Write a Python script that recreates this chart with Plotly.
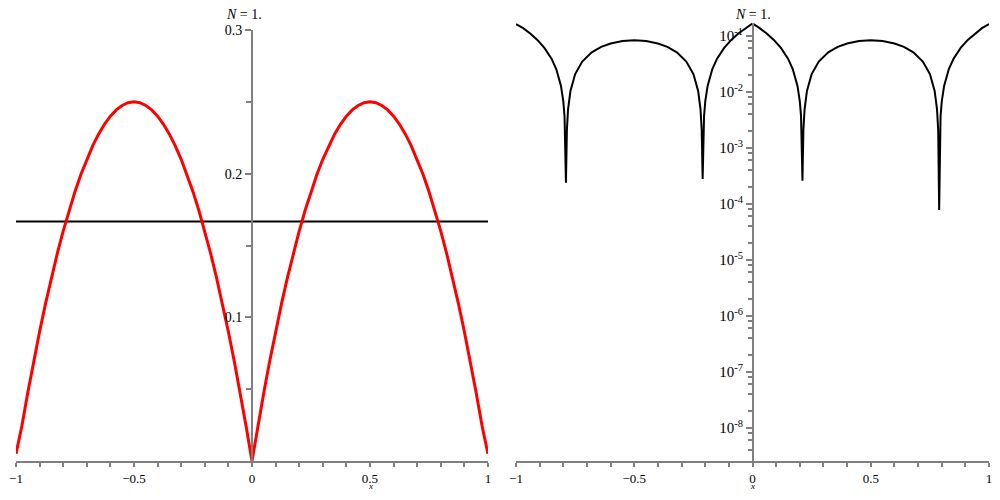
import plotly.graph_objects as go

# ---- data ----
x_left = [-1.0, -0.975, -0.95, -0.925, -0.9, -0.875, -0.85, -0.825, -0.8, -0.775, -0.75,
          -0.725, -0.7, -0.675, -0.65, -0.625, -0.6, -0.575, -0.55, -0.525, -0.5,
          -0.475, -0.45, -0.425, -0.4, -0.375, -0.35, -0.325, -0.3, -0.275, -0.25,
          -0.225, -0.2, -0.175, -0.15, -0.125, -0.1, -0.075, -0.05, -0.025, 0.0,
          0.025, 0.05, 0.075, 0.1, 0.125, 0.15, 0.175, 0.2, 0.225, 0.25,
          0.275, 0.3, 0.325, 0.35, 0.375, 0.4, 0.425, 0.45, 0.475, 0.5,
          0.525, 0.55, 0.575, 0.6, 0.625, 0.65, 0.675, 0.7, 0.725, 0.75,
          0.775, 0.8, 0.825, 0.85, 0.875, 0.9, 0.925, 0.95, 0.975, 1.0]
y_left = [0.005, 0.0244, 0.0475, 0.0694, 0.09, 0.1094, 0.1275, 0.1444, 0.16, 0.1744, 0.1875,
          0.1994, 0.21, 0.2194, 0.2275, 0.2344, 0.24, 0.2444, 0.2475, 0.2494, 0.25,
          0.2494, 0.2475, 0.2444, 0.24, 0.2344, 0.2275, 0.2194, 0.21, 0.1994, 0.1875,
          0.1744, 0.16, 0.1444, 0.1275, 0.1094, 0.09, 0.0694, 0.0475, 0.0244, 0.0,
          0.0244, 0.0475, 0.0694, 0.09, 0.1094, 0.1275, 0.1444, 0.16, 0.1744, 0.1875,
          0.1994, 0.21, 0.2194, 0.2275, 0.2344, 0.24, 0.2444, 0.2475, 0.2494, 0.25,
          0.2494, 0.2475, 0.2444, 0.24, 0.2344, 0.2275, 0.2194, 0.21, 0.1994, 0.1875,
          0.1744, 0.16, 0.1444, 0.1275, 0.1094, 0.09, 0.0694, 0.0475, 0.0244, 0.005]

x_const = [-1.0, 1.0]
y_const = [0.1667, 0.1667]

x_right = [-1.0, -0.97, -0.94, -0.91, -0.88, -0.85, -0.83, -0.81, -0.8, -0.795, -0.789,
           -0.785, -0.78, -0.77, -0.75, -0.72, -0.68, -0.64, -0.6, -0.55, -0.5,
           -0.45, -0.4, -0.36, -0.32, -0.28, -0.25, -0.23, -0.22, -0.215, -0.211,
           -0.205, -0.2, -0.19, -0.17, -0.15, -0.12, -0.09, -0.06, -0.03, 0.0,
           0.03, 0.06, 0.09, 0.12, 0.15, 0.17, 0.19, 0.2, 0.205, 0.211,
           0.215, 0.22, 0.23, 0.25, 0.28, 0.32, 0.36, 0.4, 0.45, 0.5,
           0.55, 0.6, 0.64, 0.68, 0.72, 0.75, 0.77, 0.78, 0.785, 0.789,
           0.795, 0.8, 0.81, 0.83, 0.85, 0.88, 0.91, 0.94, 0.97, 1.0]
y_right = [0.162, 0.1376, 0.1103, 0.0848, 0.0611, 0.0392, 0.0256, 0.0128, 0.0067, 0.0037, 0.00024,
           0.0021, 0.0049, 0.0104, 0.0208, 0.0349, 0.0509, 0.0637, 0.0733, 0.0808, 0.0833,
           0.0808, 0.0733, 0.0637, 0.0509, 0.0349, 0.0208, 0.0104, 0.0049, 0.0021, 0.00028,
           0.0037, 0.0067, 0.0128, 0.0256, 0.0392, 0.0611, 0.0848, 0.1103, 0.1376, 0.1667,
           0.1376, 0.1103, 0.0848, 0.0611, 0.0392, 0.0256, 0.0128, 0.0067, 0.0037, 0.00026,
           0.0021, 0.0049, 0.0104, 0.0208, 0.0349, 0.0509, 0.0637, 0.0733, 0.0808, 0.0833,
           0.0808, 0.0733, 0.0637, 0.0509, 0.0349, 0.0208, 0.0104, 0.0049, 0.0021, 0.000078,
           0.0037, 0.0067, 0.0128, 0.0256, 0.0392, 0.0611, 0.0848, 0.1103, 0.1376, 0.162]

log_tickvals = [1e-8, 1e-7, 1e-6, 1e-5, 1e-4, 1e-3, 1e-2, 1e-1]
log_ticktext = ["10<sup>-8</sup>", "10<sup>-7</sup>", "10<sup>-6</sup>", "10<sup>-5</sup>",
                "10<sup>-4</sup>", "10<sup>-3</sup>", "10<sup>-2</sup>", "10<sup>-1</sup>"]

title_text = "<i>N</i> = 1."
x_label = "<i>x</i>"

FONT = "Liberation Serif"
AXC = "#7f7f7f"

# minor tick positions of the log axis (2, 4, 6, 8 in each decade)
log_minor = [m * 10.0 ** e for e in range(-9, 0) for m in (2, 4, 6, 8)]

fig = go.Figure()
fig.add_trace(go.Scatter(x=x_const, y=y_const, mode="lines",
                         line=dict(color="black", width=2), xaxis="x", yaxis="y"))
fig.add_trace(go.Scatter(x=x_left, y=y_left, mode="lines",
                         line=dict(color="#ff0000", width=3), xaxis="x", yaxis="y"))
fig.add_trace(go.Scatter(x=x_right, y=y_right, mode="lines",
                         line=dict(color="black", width=2), xaxis="x2", yaxis="y2"))

xcommon = dict(range=[-1, 1], dtick=0.5, tick0=0, showgrid=False, zeroline=False,
               automargin=False, ticklabeloverflow="allow",
               showline=True, linecolor=AXC, linewidth=2, ticks="outside", ticklen=4,
               tickcolor=AXC, tickwidth=1.5,
               minor=dict(dtick=0.1, ticks="outside", ticklen=4, tickcolor=AXC, tickwidth=1.5),
               tickfont=dict(family=FONT, size=13, color="black"))

fig.update_layout(
    width=984, height=484,
    margin=dict(l=0, r=0, t=0, b=0, autoexpand=False),
    paper_bgcolor="white", plot_bgcolor="white",
    showlegend=False,
    xaxis=dict(domain=[0.0081, 0.4878], anchor="y", **xcommon),
    yaxis=dict(domain=[0.064, 0.9545], range=[0, 0.3], anchor="free", position=0.248,
               automargin=False,
               tickvals=[0.1, 0.2, 0.3], showgrid=False, zeroline=False,
               showline=True, linecolor=AXC, linewidth=2, ticks="outside", ticklen=6,
               tickcolor=AXC, tickwidth=1.5,
               minor=dict(tickvals=[0.05, 0.15, 0.25], ticks="outside", ticklen=5,
                          tickcolor=AXC, tickwidth=1.5),
               tickfont=dict(family=FONT, size=14, color="black")),
    xaxis2=dict(domain=[0.5163, 0.9970], anchor="y2", **xcommon),
    yaxis2=dict(domain=[0.064, 0.969], type="log", range=[-8.59, -0.77],
                anchor="free", position=0.7571,
                tickmode="array", tickvals=log_tickvals, ticktext=log_ticktext,
                automargin=False,
                showgrid=False, zeroline=False,
                showline=True, linecolor=AXC, linewidth=2, ticks="outside", ticklen=6,
                tickcolor=AXC, tickwidth=1.5,
                minor=dict(tickmode="array", tickvals=log_minor, ticks="outside", ticklen=4,
                           tickcolor=AXC, tickwidth=1.5, showgrid=False),
                tickfont=dict(family=FONT, size=15, color="black")),
    annotations=[
        dict(text=title_text, x=0.2398, y=0.9876, xref="paper", yref="paper",
             xanchor="center", yanchor="middle", showarrow=False,
             font=dict(family=FONT, size=14, color="black")),
        dict(text=title_text, x=0.7571, y=0.9876, xref="paper", yref="paper",
             xanchor="center", yanchor="middle", showarrow=False,
             font=dict(family=FONT, size=14, color="black")),
        dict(text=x_label, x=0.3679, y=0.0124, xref="paper", yref="paper",
             xanchor="center", yanchor="middle", showarrow=False, borderpad=0,
             font=dict(family=FONT, size=9, color="black")),
        dict(text=x_label, x=0.7571, y=0.0124, xref="paper", yref="paper",
             xanchor="center", yanchor="middle", showarrow=False, borderpad=0,
             font=dict(family=FONT, size=9, color="black")),
    ],
)

fig.write_html("out.html")
